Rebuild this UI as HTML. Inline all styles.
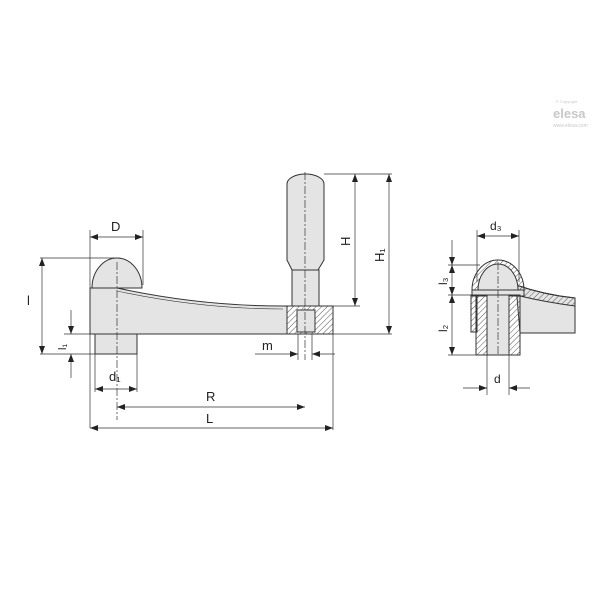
<!DOCTYPE html>
<html><head><style>body{margin:0;background:#fff}svg{display:block}text{font-family:"Liberation Sans",sans-serif;fill:#222}text.lg{fill:#c8c8c8}</style></head>
<body>
<svg width="600" height="600" viewBox="0 0 600 600" xmlns="http://www.w3.org/2000/svg">
<defs>
<marker id="a" markerWidth="8" markerHeight="6" refX="8" refY="3" orient="auto-start-reverse" markerUnits="userSpaceOnUse"><path d="M0,0 L8,3 L0,6 Z" fill="#222"/></marker>
<pattern id="h" width="4" height="4" patternUnits="userSpaceOnUse" patternTransform="rotate(45)"><line x1="0" y1="0" x2="0" y2="4" stroke="#555" stroke-width="1"/></pattern>
</defs>
<g><text class="lg" x="556" y="103" font-size="4">© Copyright</text><text class="lg" x="553" y="118" font-size="13" font-weight="bold">elesa</text><text class="lg" x="553" y="127" font-size="5">www.elesa.com</text></g>
<g stroke="#333" stroke-width="1" fill="#e4e4e4">
<path d="M90,288 H117 Q200,306 283,306 H287 V334 H90 Z"/>
<path d="M117,291 Q200,309 283,309" fill="none" stroke-width="0.6"/>
<path d="M92,288 A25,30 0 0 1 142,288 Z"/>
<rect x="95" y="334" width="42" height="20"/>
<rect x="287" y="306" width="46" height="28" fill="url(#h)"/>
<rect x="297" y="310" width="18" height="22" fill="#e4e4e4"/>
<path d="M287,184 A18.5,10 0 0 1 324,184 L324,260 L318,270 L292,270 L287,260 Z"/>
<rect x="292" y="270" width="27" height="36"/>
</g>
<g stroke="#333" stroke-width="0.7" fill="none">
<path d="M117,262 V420 M305,172 V360" stroke-dasharray="8,2,2,2"/>
<path d="M90,230 V428 M143,230 V285 M40,258 H115 M40,354 H95 M64,334 H90 M64,354 H95 M95,354 V392 M137,354 V392 M333,334 V430 M324,174 H392 M318,306 H360 M333,334 H392 M298,334 V360 M312,334 V360"/>
<path d="M90,237 H143" marker-start="url(#a)" marker-end="url(#a)"/>
<path d="M42,258 V354" marker-start="url(#a)" marker-end="url(#a)"/>
<path d="M71,310 V334" marker-end="url(#a)"/><path d="M71,378 V354" marker-end="url(#a)"/>
<path d="M355,174 V306" marker-start="url(#a)" marker-end="url(#a)"/>
<path d="M389,174 V334" marker-start="url(#a)" marker-end="url(#a)"/>
<path d="M255,354 H298" marker-end="url(#a)"/><path d="M335,354 H312" marker-end="url(#a)"/>
<path d="M95,389 H137" marker-start="url(#a)" marker-end="url(#a)"/>
<path d="M117,407 H305" marker-start="url(#a)" marker-end="url(#a)"/>
<path d="M90,428 H333" marker-start="url(#a)" marker-end="url(#a)"/>
</g>
<g font-size="13">
<text x="111" y="231">D</text><text x="27" y="305">l</text>
<text x="0" y="0" font-size="11" transform="translate(66,350) rotate(-90)">l₁</text>
<text x="262" y="350">m</text><text x="109" y="381">d₁</text>
<text x="206" y="401">R</text><text x="206" y="423">L</text>
<text x="0" y="0" transform="translate(350,246) rotate(-90)">H</text>
<text x="0" y="0" transform="translate(384,262) rotate(-90)">H₁</text>
</g>
<g stroke="#333" stroke-width="1">
<path d="M516,285 Q545,295 575,298 L575,333 L520,333 Z" fill="#e4e4e4"/>
<path d="M516,285 Q545,295 575,298 L575,306 Q545,302 520,296 Z" fill="url(#h)"/>
<path d="M472,290 A26,30 0 0 1 524,290 L518,290 A20,24 0 0 0 478,290 Z" fill="url(#h)"/>
<path d="M478,290 A20,26 0 0 1 518,290 Z" fill="#e4e4e4"/>
<rect x="472" y="290" width="52" height="6" fill="#e4e4e4"/>
<rect x="471" y="295" width="6" height="37" fill="url(#h)"/>
<rect x="476" y="295" width="44" height="60" fill="url(#h)"/>
<rect x="487" y="295" width="22" height="60" fill="#e4e4e4"/>
</g>
<g stroke="#333" stroke-width="0.7" fill="none">
<path d="M498,262 V356" stroke-dasharray="8,2,2,2"/>
<path d="M477,230 V282 M519,230 V282 M448,265 H480 M448,295 H476 M448,355 H476 M487,355 V395 M509,355 V395"/>
<path d="M477,236 H519" marker-start="url(#a)" marker-end="url(#a)"/>
<path d="M452,240 V265" marker-end="url(#a)"/><path d="M452,265 V295" marker-start="url(#a)" marker-end="url(#a)"/>
<path d="M452,295 V355" marker-start="url(#a)" marker-end="url(#a)"/>
<path d="M463,388 H487" marker-end="url(#a)"/><path d="M530,388 H509" marker-end="url(#a)"/>
</g>
<g font-size="12">
<text x="490" y="230">d₃</text><text x="494" y="383">d</text>
<text x="0" y="0" transform="translate(447,285) rotate(-90)">l₃</text>
<text x="0" y="0" transform="translate(447,332) rotate(-90)">l₂</text>
</g>
</svg>
</body></html>
